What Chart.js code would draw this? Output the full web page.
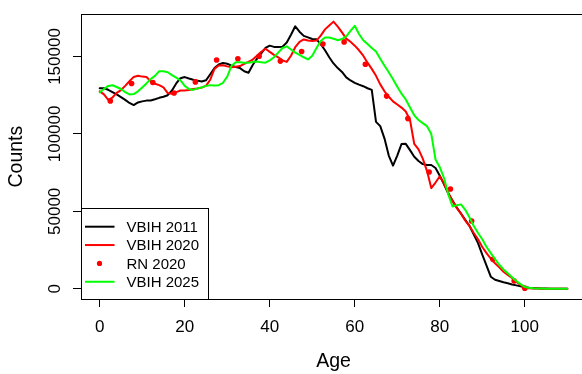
<!DOCTYPE html>
<html>
<head>
<meta charset="utf-8">
<script src="https://cdn.jsdelivr.net/npm/chart.js@4/dist/chart.umd.min.js"></script>
<style>
html,body{margin:0;padding:0;background:#fff;overflow:hidden;}
#wrap{width:590px;height:374px;}
</style>
</head>
<body>
<div id="wrap"><canvas id="c" width="590" height="374"></canvas></div>
<script>
// ---- data ----
const ages = Array.from({length: 111}, (_, i) => i);
const vbih2011 = [
129500,129500,128500,127000,125500,123800,122000,120000,118600,120300,
121000,121500,121600,122400,123300,124000,125000,128000,132600,136000,
136700,135800,135000,134400,133800,134600,138500,142500,144800,145800,
145300,144100,143200,142500,140500,139500,144500,148500,152000,155500,
157000,156200,156100,156300,159000,164000,169500,166000,163300,162300,
161300,161100,158000,154000,149500,145500,142500,140000,136500,134500,
133000,131800,130800,129500,128400,107800,105000,97000,86000,79500,
86000,93500,93600,89500,85300,82500,80500,79900,79900,78000,
73000,67500,61500,57000,52500,48500,44500,40500,35000,29500,
22000,15000,7800,5800,5000,4200,3600,2800,2200,1600,
1000,600,400,300,200,100,50,0,0,0,0];
const vbih2020 = [
127500,125500,122000,123500,126500,128300,131000,134000,136800,137500,
137000,136700,134000,132400,131500,130000,126400,125900,127000,128000,
128000,128400,129000,129300,130000,131000,135000,142000,144200,144300,
143600,143100,143300,143800,145300,146500,148000,150500,153000,155000,
153000,151000,149500,147500,146500,150500,156000,159500,161000,160300,
160000,160300,163500,167500,170000,172500,169300,165600,161500,159500,
157000,154000,150500,146000,142000,137500,132000,127500,124000,121000,
119000,117000,114500,109000,93500,90000,84000,76000,65000,68600,
72700,68000,62000,56500,52000,48500,44000,40500,36000,32000,
27000,23000,19500,16500,13800,11000,9000,7000,4500,2500,
500,300,200,100,50,0,0,0,0,0,0];
const vbih2025 = [
126800,129000,131000,131400,130300,129000,127000,125500,125700,127500,
130000,132600,135500,137500,140500,140400,139800,138000,136300,134500,
131000,129000,128400,129400,130000,131000,131500,131300,131500,133000,
137000,144000,146200,146300,146000,146000,146500,146800,146200,146000,
147500,149500,152500,155500,156500,154500,152500,151000,149500,148100,
150500,155500,160000,162200,162300,161500,160500,161300,163000,166500,
169800,164500,160500,158000,155500,153200,148500,144000,139800,135300,
130500,126000,122200,117000,112000,109000,107000,105000,100000,83500,
78500,71500,61000,53100,54000,54500,51000,46000,40500,36000,
32000,27000,23000,19200,15500,12500,10000,7500,5000,3000,
1200,600,300,200,100,50,0,0,0,0,0];
const rnAges = [2.5,7.5,12.5,17.5,22.5,27.5,32.5,37.5,42.5,47.5,52.5,57.5,62.5,67.5,72.5,77.5,82.5,87.5,92.5,97.5,100];
const rn2020 = [121300,132600,133200,126400,133600,147700,148500,150100,147000,153200,158000,159400,145000,124400,109900,75400,64400,43800,19000,5000,400];
const xTicks = [0,20,40,60,80,100];
const yTicks = [0,50000,100000,150000];
const legendLabels = ['VBIH 2011','VBIH 2020','RN 2020','VBIH 2025'];
const colors = ['#000000','#ff0000','#ff0000','#00ff00'];

const toXY = (xs, ys) => xs.map((x, i) => ({x: x, y: ys[i]}));

const FONT = '"Liberation Sans", Arial, Helvetica, sans-serif';

const rPlugin = {
  id: 'rstyle',
  afterDraw(chart) {
    const ctx = chart.ctx;
    const a = chart.chartArea;
    const ys = chart.scales.y;
    ctx.save();
    // frame
    ctx.strokeStyle = '#000';
    ctx.lineWidth = 1;
    ctx.strokeRect(Math.round(a.left) + 0.5, Math.round(a.top) + 0.5, Math.round(a.right - a.left), Math.round(a.bottom - a.top));
    // y tick labels (rotated, R style)
    ctx.fillStyle = '#000';
    ctx.font = '17px ' + FONT;
    ctx.textAlign = 'center';
    ctx.textBaseline = 'alphabetic';
    yTicks.forEach(v => {
      const py = ys.getPixelForValue(v);
      ctx.save();
      ctx.translate(60, py);
      ctx.rotate(-Math.PI / 2);
      ctx.fillText(String(v), 0, 0);
      ctx.restore();
    });
    // legend
    const lx = Math.round(a.left) + 0.5, ly = 208.5, lw = 127, lh = 91;
    ctx.fillStyle = '#fff';
    ctx.fillRect(lx, ly, lw, lh);
    ctx.strokeStyle = '#000';
    ctx.strokeRect(lx, ly, lw, lh);
    ctx.font = '15px ' + FONT;
    ctx.textAlign = 'left';
    ctx.textBaseline = 'middle';
    legendLabels.forEach((t, i) => {
      const yy = 226.7 + i * 18.35;
      if (i === 2) {
        ctx.fillStyle = colors[i];
        ctx.beginPath();
        ctx.arc(99.5, yy, 2.6, 0, Math.PI * 2);
        ctx.fill();
      } else {
        ctx.strokeStyle = colors[i];
        ctx.lineWidth = 2;
        ctx.beginPath();
        ctx.moveTo(85, yy);
        ctx.lineTo(114.5, yy);
        ctx.stroke();
      }
      ctx.fillStyle = '#000';
      ctx.fillText(t, 126.5, yy + 1);
    });
    ctx.restore();
  }
};

new Chart(document.getElementById('c'), {
  type: 'scatter',
  data: {
    datasets: [
      {label: legendLabels[0], data: toXY(ages, vbih2011), showLine: true, borderColor: colors[0], borderWidth: 2, pointRadius: 0, order: 4},
      {label: legendLabels[1], data: toXY(ages, vbih2020), showLine: true, borderColor: colors[1], borderWidth: 2, pointRadius: 0, order: 3},
      {label: legendLabels[2], data: toXY(rnAges, rn2020), showLine: false, backgroundColor: colors[2], borderWidth: 0, pointRadius: 2.8, order: 2},
      {label: legendLabels[3], data: toXY(ages, vbih2025), showLine: true, borderColor: colors[3], borderWidth: 2, pointRadius: 0, order: 1}
    ]
  },
  options: {
    responsive: false,
    animation: false,
    devicePixelRatio: 1,
    layout: {padding: {left: 0, top: 4, right: 3, bottom: 0}},
    plugins: {legend: {display: false}, tooltip: {enabled: false}},
    elements: {line: {tension: 0, borderJoinStyle: 'round', borderCapStyle: 'round'}},
    scales: {
      x: {
        type: 'linear',
        min: -4.4, max: 114.4,
        afterBuildTicks: s => { s.ticks = xTicks.map(v => ({value: v})); },
        afterFit: s => { s.height = 75; },
        grid: {display: true, drawOnChartArea: false, drawTicks: true, tickLength: 8, color: '#000', lineWidth: 1},
        border: {display: true, color: '#000', width: 1},
        ticks: {color: '#000', font: {family: FONT, size: 17}, padding: 10, maxRotation: 0, autoSkip: false},
        title: {display: true, text: 'Age', color: '#000', font: {family: FONT, size: 19.5}, padding: {top: 0, bottom: 1}}
      },
      y: {
        type: 'linear',
        min: -6600, max: 177300,
        afterBuildTicks: s => { s.ticks = yTicks.map(v => ({value: v})); },
        afterFit: s => { s.width = 81; },
        grid: {display: true, drawOnChartArea: false, drawTicks: true, tickLength: 8, color: '#000', lineWidth: 1},
        border: {display: true, color: '#000', width: 1},
        ticks: {color: 'rgba(0,0,0,0)', font: {family: FONT, size: 17}, padding: 4},
        title: {display: true, text: 'Counts', color: '#000', font: {family: FONT, size: 19.5}, padding: {top: 5, bottom: 0}}
      }
    }
  },
  plugins: [rPlugin]
});
</script>
</body>
</html>
